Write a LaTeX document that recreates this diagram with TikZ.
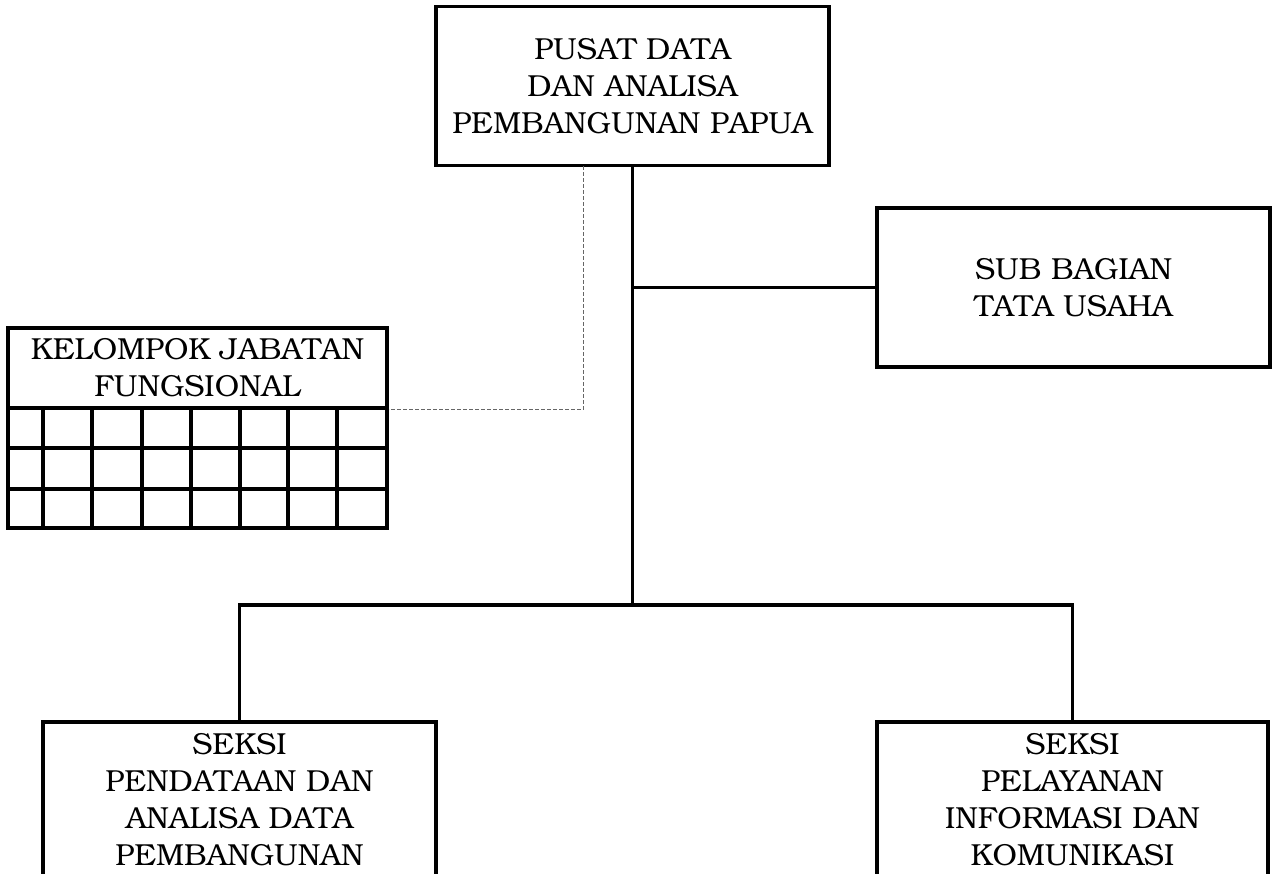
\documentclass[tikz,border=0pt]{standalone}
\usepackage[T1]{fontenc}
\usepackage{bookman}
\begin{document}
\begin{tikzpicture}[x=0.5pt,y=-0.5pt,
  box/.style={draw, line width=1.8pt, inner sep=0pt, align=center, font=\fontsize{15.2}{18.5}\selectfont},
  txt/.style={inner sep=0pt, align=center, font=\fontsize{15.2}{18.5}\selectfont},
  conn/.style={line width=1.8pt},
  dotconn/.style={line width=0.5pt, gray!80!black, dash pattern=on 2pt off 1pt}]
\useasboundingbox (0,0) rectangle (1272,873);
\clip (0,0) rectangle (1272,873);
\node[box, minimum width=196.5pt, minimum height=79.5pt] (top) at (632.5,86) {PUSAT DATA\\DAN ANALISA\\PEMBANGUNAN PAPUA};
\node[box, minimum width=196.5pt, minimum height=79.5pt] (sub) at (1073.5,287.5) {SUB BAGIAN\\TATA USAHA};
\node[box, minimum width=189.5pt, minimum height=40pt] (kel) at (197.5,368) {KELOMPOK JABATAN\\FUNGSIONAL};
\node[box, minimum width=189.5pt, minimum height=60pt] (grid) at (197.5,468) {};
\foreach \yy in {448,489} \draw[conn] (8,\yy) -- (387,\yy);
\foreach \xx in {43,92,142,191,240,288,337} \draw[conn] (\xx,408) -- (\xx,528);
\node[box, minimum width=196.5pt, minimum height=100pt] (botL) at (239.5,822) {};
\node[box, minimum width=195.5pt, minimum height=100pt] (botR) at (1072.5,822) {};
\node[txt, anchor=north] (tL) at (239.5,733) {SEKSI\\PENDATAAN DAN\\ANALISA DATA\\PEMBANGUNAN};
\node[txt, anchor=north] (tR) at (1072.5,733) {SEKSI\\PELAYANAN\\INFORMASI DAN\\KOMUNIKASI};
\coordinate (bus) at (632.5,605);
\coordinate (dtop) at (583,166);
\draw[conn] (top.south) -- (bus);
\draw[conn] (top.south |- sub.west) -- (sub.west);
\draw[conn] (botL.north) -- (botL.north |- bus) -- (botR.north |- bus) -- (botR.north);
\draw[dotconn] (dtop) |- (kel.south east);
\end{tikzpicture}
\end{document}
